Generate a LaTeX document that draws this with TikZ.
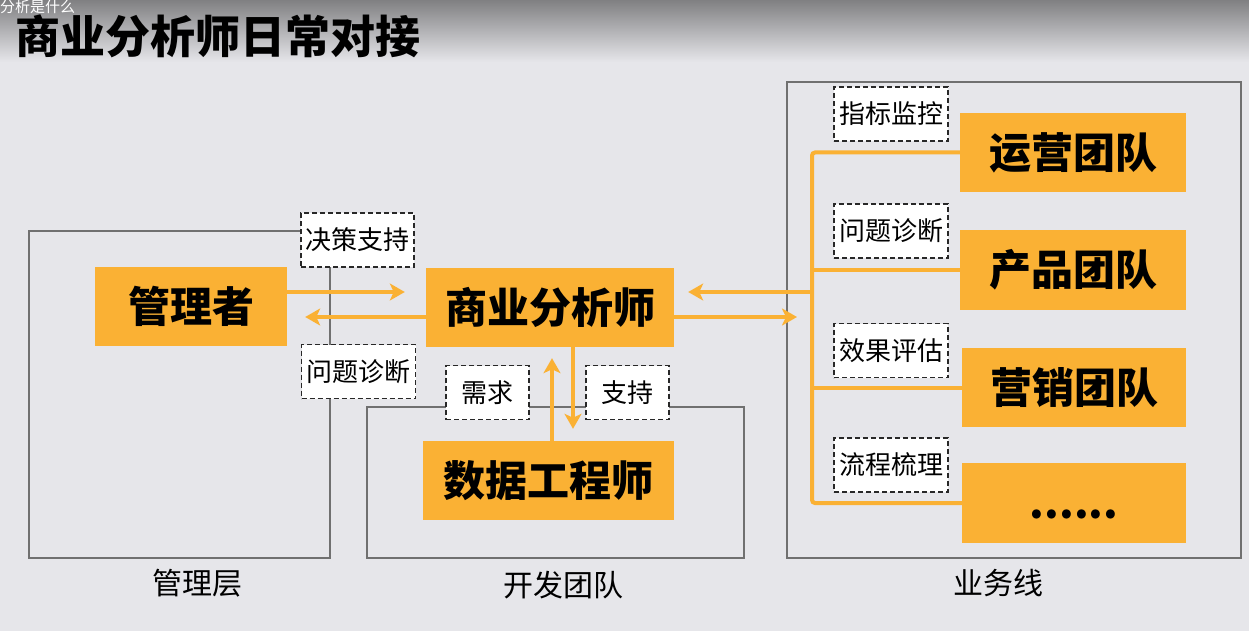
\documentclass[tikz,border=0pt]{standalone}
\usepackage{fontspec}
\setmainfont{Noto Sans CJK SC}
\usetikzlibrary{arrows.meta, positioning, calc}
\definecolor{bagray}{RGB}{230,230,234}
\definecolor{bahead}{RGB}{128,128,130}
\definecolor{baorange}{RGB}{250,177,52}
\definecolor{baline}{RGB}{112,112,112}
\definecolor{badash}{RGB}{40,40,40}

\begin{document}
\begin{tikzpicture}[x=1pt, y=-1pt,
  role/.style={fill=baorange, inner sep=0pt, font=\fontsize{42}{48}\selectfont\bfseries},
  tag/.style={fill=white, draw=badash, dash pattern=on 5pt off 3pt, line width=1.4pt,
    inner sep=0pt, minimum height=54pt, font=\fontsize{26}{30}\selectfont},
  group/.style={draw=baline, line width=1.3pt},
  grouplabel/.style={font=\fontsize{30}{34}\selectfont},
  flow/.style={draw=baorange, line width=4.5pt, -{Stealth[length=15pt, width=17pt, inset=4pt]}},
  branch/.style={draw=baorange, line width=4pt, rounded corners=3pt}]
\useasboundingbox (0,0) rectangle (1249,631);

% background + header
\fill[bagray] (0,0) rectangle (1249,631);
\shade[top color=bahead, bottom color=bagray] (0,0) rectangle (1249,62);
\node[white, font=\fontsize{15}{17}\selectfont, anchor=north west, inner sep=0pt] (clip) at (0,0) {分析是什么};
\node[font=\fontsize{45}{52}\selectfont\bfseries, anchor=west, inner sep=0pt] (title) at (15,36) {商业分析师日常对接};

% groups
\draw[group] (29,231) rectangle (330,558);
\draw[group] (367,407) rectangle (744,558);
\draw[group] (787,82) rectangle (1241,558);
\node[grouplabel] (mgmtlbl) at (197,583) {管理层};
\node[grouplabel] (devlbl)  at (563,585) {开发团队};
\node[grouplabel] (bizlbl)  at (998,583) {业务线};

% roles
\node[role, minimum width=192pt, minimum height=79pt] (mgr)  at (191,306.5)  {管理者};
\node[role, minimum width=248pt, minimum height=79pt] (ba)   at (550,307.5)  {商业分析师};
\node[role, minimum width=251pt, minimum height=79pt] (de)   at (548.5,480.5) {数据工程师};
\node[role, minimum width=226pt, minimum height=79pt] (ops)  at (1073,152.5) {运营团队};
\node[role, minimum width=226pt, minimum height=80pt] (prod) at (1073,270)   {产品团队};
\node[role, minimum width=224pt, minimum height=79pt] (mkt)  at (1074,387.5) {营销团队};
\node[role, minimum width=224pt, minimum height=80pt] (more) at (1074,503)   {\vphantom{营销}......};

% dashed tags
\node[tag, minimum width=113pt] (decide)  at (357.5,240)   {决策支持};
\node[tag, minimum width=114pt] (diagL)   at (358.5,371.5) {问题诊断};
\node[tag, minimum width=83pt]  (need)    at (487.5,392.5) {需求};
\node[tag, minimum width=83pt]  (support) at (627.5,392.5) {支持};
\node[tag, minimum width=114pt] (monitor) at (891,114)     {指标监控};
\node[tag, minimum width=114pt] (diagR)   at (891,231)     {问题诊断};
\node[tag, minimum width=114pt] (assess)  at (891,350.5)   {效果评估};
\node[tag, minimum width=114pt] (process) at (891,465)     {流程梳理};

% business line spine
\coordinate (spine) at (812,0);
\draw[branch] (ops.west) -- (ops.west -| spine) -- (more.west -| spine) -- (more.west);
\draw[branch] (prod.west -| spine) -- (prod.west);
\draw[branch] (mkt.west -| spine) -- (mkt.west);

% arrows
\draw[flow, shorten >=21pt] (mgr.east |- 0,292) -- (ba.west |- 0,292);
\draw[flow, shorten >=18pt] (ba.west |- 0,317) -- (mgr.east |- 0,317);
\draw[flow, shorten >=14pt] (spine |- 0,292) -- (ba.east |- 0,292);
\coordinate (bizin) at (797,317);
\draw[flow] (ba.east |- bizin) -- (bizin);
\draw[flow, shorten >=11pt] (de.north -| 552,0) -- (ba.south -| 552,0);
\draw[flow, shorten >=12pt] (ba.south -| 573,0) -- (de.north -| 573,0);
\end{tikzpicture}
\end{document}
